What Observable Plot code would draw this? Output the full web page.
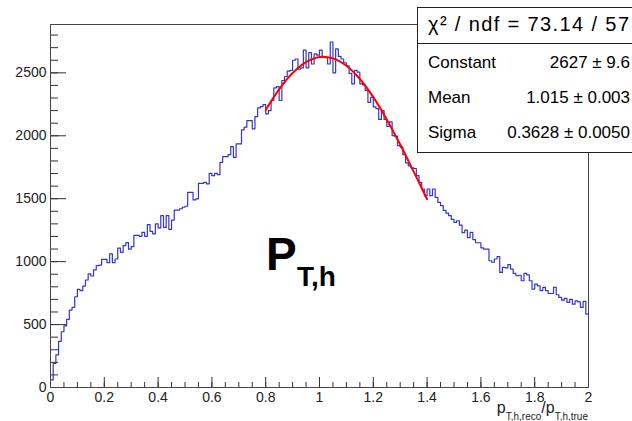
<!DOCTYPE html>
<html>
<head>
<meta charset="utf-8">
<script src="https://cdn.jsdelivr.net/npm/d3@7"></script>
<script src="https://cdn.jsdelivr.net/npm/@observablehq/plot@0.6"></script>
<style>
  html, body { margin: 0; padding: 0; background: white; overflow: hidden; }
  #chart { position: relative; width: 632px; height: 421px; }
</style>
</head>
<body>
<div id="chart"></div>
<script>
// Histogram: 200 bins from 0 to 2 (bin contents)
const xMin = 0, xMax = 2, nBins = 200;
const counts = [
  60, 191, 260, 366, 443, 490, 541, 615, 636, 721,
  779, 769, 806, 854, 902, 886, 934, 968, 973, 1018,
  1018, 992, 1061, 992, 1021, 1108, 1074, 1127, 1151, 1100,
  1119, 1209, 1209, 1201, 1233, 1201, 1294, 1241, 1220, 1300,
  1268, 1366, 1272, 1366, 1256, 1330, 1410, 1410, 1420, 1432,
  1440, 1551, 1551, 1490, 1498, 1622, 1622, 1629, 1617, 1702,
  1683, 1702, 1691, 1789, 1834, 1834, 1850, 1914, 1829, 1935,
  1935, 2047, 2068, 2121, 2121, 2055, 2152, 2222, 2232, 2248,
  2174, 2200, 2280, 2381, 2391, 2280, 2439, 2471, 2513, 2519,
  2600, 2610, 2530, 2540, 2680, 2540, 2660, 2570, 2650, 2640,
  2680, 2625, 2620, 2570, 2745, 2500, 2690, 2630, 2610, 2580,
  2555, 2495, 2412, 2520, 2505, 2412, 2405, 2360, 2266, 2305,
  2230, 2215, 2130, 2200, 2130, 2075, 2110, 2001, 1995, 1922,
  1910, 1850, 1785, 1760, 1745, 1740, 1683, 1630, 1577, 1524,
  1577, 1524, 1577, 1511, 1471, 1445, 1408, 1385, 1365, 1335,
  1312, 1325, 1290, 1230, 1250, 1190, 1233, 1175, 1150, 1150,
  1110, 1100, 1100, 1007, 995, 1021, 1039, 914, 954, 950,
  976, 941, 906, 888, 892, 848, 906, 895, 848, 782,
  821, 808, 769, 795, 770, 747, 747, 795, 737, 716,
  694, 708, 676, 700, 662, 689, 680, 636, 684, 583
];

// Gaussian fit curve
const fitX = [0.80, 0.85, 0.90, 0.95, 1.00, 1.05, 1.10, 1.15, 1.20, 1.25, 1.30, 1.35, 1.40];
const fitY = [2205, 2369, 2498, 2585, 2626, 2615, 2556, 2451, 2307, 2130, 1930, 1715, 1496];

// Axis ticks
const yMax = 2884;
const yMajor = [0, 500, 1000, 1500, 2000, 2500];
const yMajorLabels = ["0", "500", "1000", "1500", "2000", "2500"];
const yMinor = d3.range(0, 2801, 100);
const xMajor = [0, 0.2, 0.4, 0.6, 0.8, 1.0, 1.2, 1.4, 1.6, 1.8, 2.0];
const xMajorLabels = ["0", "0.2", "0.4", "0.6", "0.8", "1", "1.2", "1.4", "1.6", "1.8", "2"];
const xMinor = d3.range(0, 41).map(i => i * 0.05);

// Stats box text
const chiText = "χ² / ndf = 73.14 / 57";
const statNames = ["Constant", "Mean", "Sigma"];
const statValues = ["2627 ± 9.6", "1.015 ± 0.003", "0.3628 ± 0.0050"];

// Build tables
const binW = (xMax - xMin) / nBins;
const hist = counts.map((c, i) => ({x: xMin + i * binW, y: c}));
hist.push({x: xMax, y: counts[counts.length - 1]});
const fit = fitX.map((x, i) => ({x, y: fitY[i]}));

const W = 632, H = 421;
const mL = 50, mR = 44, mT = 24, mB = 34;
const pw = W - mL - mR, ph = H - mT - mB;
const font = "'Liberation Sans', Arial, Helvetica, sans-serif";

const svg = Plot.plot({
  width: W, height: H,
  marginLeft: mL, marginRight: mR, marginTop: mT, marginBottom: mB,
  style: {background: "white", fontFamily: font, color: "#222"},
  x: {domain: [xMin, xMax], axis: null},
  y: {domain: [0, yMax], axis: null},
  marks: [
    Plot.line(hist, {x: "x", y: "y", curve: "step-after", stroke: "#3535c8", strokeWidth: 1.2}),
    Plot.line(fit, {x: "x", y: "y", curve: "catmull-rom", stroke: "#ff0000", strokeWidth: 2}),
    // y ticks (inside the frame)
    Plot.tickY(yMinor, {y: d => d, insetRight: pw - 8, stroke: "#333", strokeWidth: 1}),
    Plot.tickY(yMajor, {y: d => d, insetRight: pw - 16, stroke: "#333", strokeWidth: 1}),
    Plot.text(yMajor, {y: d => d, text: (d, i) => yMajorLabels[i], frameAnchor: "left", textAnchor: "end", dx: -4, fontSize: 14, fill: "#222"}),
    // x ticks
    Plot.tickX(xMinor, {x: d => d, insetTop: ph - 5, stroke: "#333", strokeWidth: 1}),
    Plot.tickX(xMajor, {x: d => d, insetTop: ph - 10, stroke: "#333", strokeWidth: 1}),
    Plot.text(xMajor, {x: d => d, text: (d, i) => xMajorLabels[i], frameAnchor: "bottom", lineAnchor: "top", dy: 5, fontSize: 14, fill: "#222"}),
    Plot.frame({stroke: "#444", strokeWidth: 1})
  ]
});

const s = d3.select(svg);
// Big label P_{T,h}
const pt = s.append("text").attr("font-family", font).attr("font-weight", "bold")
  .attr("fill", "#000").attr("text-anchor", "start");
pt.append("tspan").attr("x", 266).attr("y", 270).attr("font-size", 46).text("P");
pt.append("tspan").attr("x", 297).attr("y", 286).attr("font-size", 28).text("T,h");

// x-axis title
const xt = s.append("text").attr("x", 588).attr("y", 413).attr("text-anchor", "end")
  .attr("font-family", font).attr("font-size", 16).attr("fill", "#222");
xt.append("tspan").text("p");
xt.append("tspan").attr("font-size", 10).attr("dy", 7).text("T,h,reco");
xt.append("tspan").attr("font-size", 16).attr("dy", -7).text("/p");
xt.append("tspan").attr("font-size", 10).attr("dy", 7).text("T,h,true");

// Stats box
const g = s.append("g").attr("font-family", font).attr("fill", "#000").attr("text-anchor", "start");
g.append("rect").attr("x", 417.5).attr("y", 7.5).attr("width", 240).attr("height", 145)
  .attr("fill", "white").attr("stroke", "#222").attr("stroke-width", 1);
g.append("line").attr("x1", 417.5).attr("x2", 640).attr("y1", 43.5).attr("y2", 43.5)
  .attr("stroke", "#222").attr("stroke-width", 1);
g.append("text").attr("x", 428).attr("y", 31).attr("font-size", 20).attr("text-anchor", "start")
  .attr("textLength", 201).attr("lengthAdjust", "spacing").text(chiText);
const rowsY = [68, 103, 138];
statNames.forEach((n, i) => {
  g.append("text").attr("x", 428).attr("y", rowsY[i]).attr("font-size", 17).attr("text-anchor", "start").text(n);
  g.append("text").attr("x", 630).attr("y", rowsY[i]).attr("font-size", 17).attr("text-anchor", "end").text(statValues[i]);
});

document.getElementById("chart").appendChild(svg);
</script>
</body>
</html>
